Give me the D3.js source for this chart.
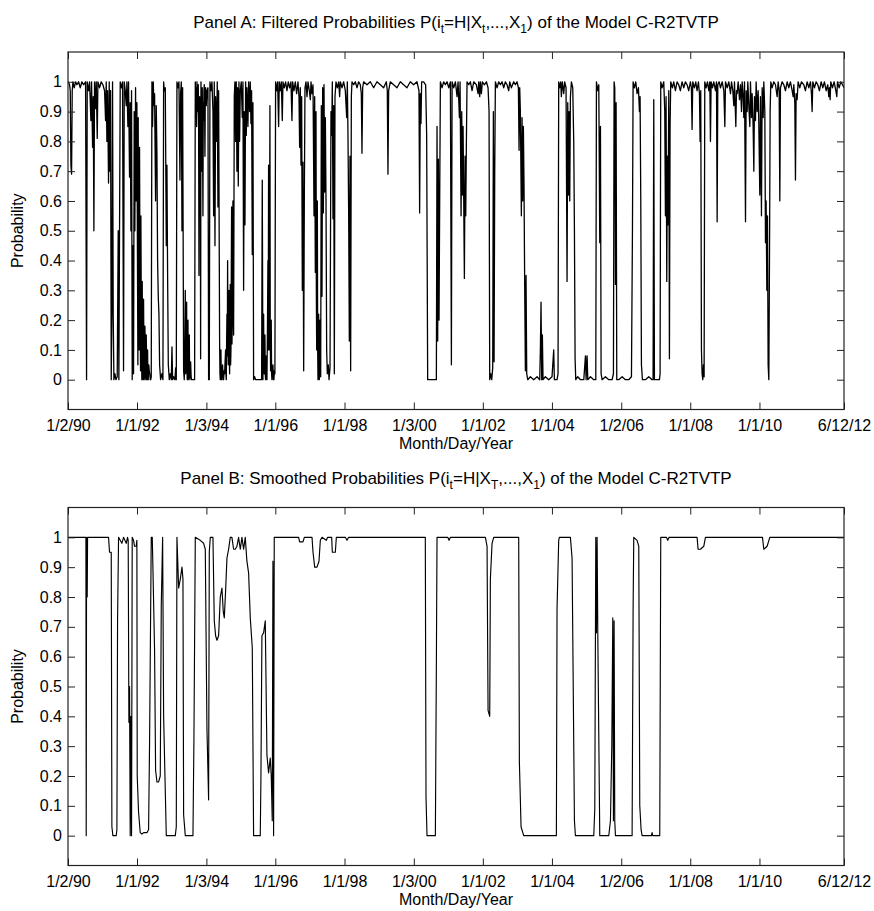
<!DOCTYPE html>
<html><head><meta charset="utf-8">
<script src="https://cdn.jsdelivr.net/npm/d3@7"></script>
<style>
body{margin:0;background:#fff}
svg{display:block}
text{font-family:"Liberation Sans",Arial,sans-serif;fill:#000}
</style>
</head><body>
<svg id="chart" width="874" height="911"></svg>
<script>
// ---------- data ----------
const tickDates = ["1990-01-02","1992-01-01","1994-01-03","1996-01-01","1998-01-01","2000-01-03","2002-01-01","2004-01-01","2006-01-02","2008-01-01","2010-01-01","2012-06-12"];
const tickLabels = ["1/2/90","1/1/92","1/3/94","1/1/96","1/1/98","1/3/00","1/1/02","1/1/04","1/2/06","1/1/08","1/1/10","6/12/12"];
const yTickValues = [0,0.1,0.2,0.3,0.4,0.5,0.6,0.7,0.8,0.9,1];
const yTickLabels = ["0","0.1","0.2","0.3","0.4","0.5","0.6","0.7","0.8","0.9","1"];
const xLabel = "Month/Day/Year";
const yLabel = "Probability";

// [decimal year, probability] - filtered probabilities (Panel A)
const filtered = [
[1990.003,1],[1990.010,1.0],[1990.048,0.99],[1990.068,0.97],[1990.087,0.72],[1990.106,0.69],[1990.125,0.97],[1990.145,1.0],[1990.183,0.98],[1990.222,1.0],[1990.260,0.99],[1990.309,1.0],[1990.357,0.98],[1990.405,1.0],[1990.453,0.99],[1990.511,1.0],[1990.540,0.0],[1990.559,1.0],[1990.598,0.97],[1990.627,1.0],[1990.665,0.87],[1990.685,1.0],[1990.714,0.78],[1990.733,0.95],[1990.752,0.5],[1990.771,1.0],[1990.800,0.91],[1990.820,1.0],[1990.849,0.81],[1990.868,1.0],[1990.916,0.98],[1990.964,1.0],
[1991.013,0.99],[1991.061,0.97],[1991.090,0.87],[1991.109,1.0],[1991.128,0.8],[1991.148,0.97],[1991.176,0.66],[1991.196,1.0],[1991.215,0.7],[1991.234,0.97],[1991.254,0.0],[1991.273,0.23],[1991.292,1.0],[1991.311,0.22],[1991.331,0.0],[1991.360,0.02],[1991.389,0.0],[1991.427,0.01],[1991.456,0.5],[1991.475,0.0],[1991.495,0.52],[1991.514,1.0],[1991.553,0.98],[1991.581,1.0],[1991.610,0.03],[1991.630,1.0],[1991.659,0.97],[1991.688,0.92],[1991.707,1.0],[1991.736,0.85],[1991.755,1.0],[1991.784,0.68],[1991.803,0.93],[1991.823,0.5],[1991.842,0.97],[1991.861,0.0],[1991.880,0.45],[1991.900,0.02],[1991.919,0.9],[1991.938,0.5],[1991.958,0.98],[1991.977,0.6],[1991.996,0.93],
[1992.015,0.35],[1992.025,0.05],[1992.035,0.88],[1992.044,0.2],[1992.054,0.52],[1992.063,0.1],[1992.073,0.78],[1992.083,0.4],[1992.093,0.2],[1992.102,0.03],[1992.112,0.55],[1992.121,0.3],[1992.131,0.08],[1992.140,0.0],[1992.150,0.33],[1992.160,0.15],[1992.170,0.02],[1992.180,0.0],[1992.189,0.27],[1992.198,0.1],[1992.208,0.0],[1992.218,0.02],[1992.228,0.18],[1992.237,0.12],[1992.247,0.01],[1992.256,0.0],[1992.266,0.15],[1992.275,0.08],[1992.285,0.0],[1992.295,0.02],[1992.305,0.1],[1992.315,0.0],[1992.324,0.0],[1992.340,0.05],[1992.353,0.03],[1992.368,0.02],[1992.382,0.0],[1992.396,0.0],[1992.411,0.01],
[1992.430,1.0],[1992.449,0.85],[1992.469,1.0],[1992.488,0.92],[1992.507,0.96],[1992.536,0.6],[1992.555,0.92],[1992.575,0.76],[1992.594,0.4],[1992.613,0.28],[1992.633,0.22],[1992.652,0.05],[1992.681,0.0],[1992.719,0.02],[1992.748,0.0],[1992.768,1.0],[1992.787,0.97],[1992.816,0.98],[1992.845,0.45],[1992.864,0.72],[1992.883,0.35],[1992.903,0.05],[1992.932,0.0],[1992.960,0.02],[1992.989,0.0],
[1993.009,0.11],[1993.028,0.0],[1993.057,0.01],[1993.095,0.0],[1993.115,0.04],[1993.134,0.0],[1993.153,1.0],[1993.182,0.98],[1993.211,1.0],[1993.240,0.67],[1993.259,0.96],[1993.279,1.0],[1993.298,0.5],[1993.317,0.98],
[1993.346,0.03],[1993.365,0.0],[1993.380,0.12],[1993.394,0.3],[1993.404,0.02],[1993.414,0.05],[1993.423,0.22],[1993.433,0.26],[1993.442,0.03],[1993.452,0.0],[1993.462,0.1],[1993.472,0.2],[1993.481,0.0],[1993.491,0.02],[1993.500,0.12],[1993.510,0.15],[1993.520,0.01],[1993.529,0.0],[1993.539,0.04],[1993.549,0.06],[1993.563,0.01],[1993.578,0.0],[1993.616,0.0],[1993.664,0.0],
[1993.684,1.0],[1993.698,0.9],[1993.713,0.98],[1993.722,0.85],[1993.732,1.0],[1993.742,0.93],[1993.751,0.9],[1993.760,0.97],[1993.770,0.99],[1993.780,0.85],[1993.790,0.35],[1993.800,0.9],[1993.809,0.95],[1993.818,0.88],[1993.828,0.82],[1993.838,0.07],[1993.848,1.0],[1993.857,0.85],[1993.867,0.7],[1993.876,0.92],[1993.886,0.98],[1993.895,0.8],[1993.905,0.55],[1993.915,0.93],[1993.925,0.87],[1993.934,0.97],[1993.944,0.99],[1993.954,0.9],[1993.963,0.75],[1993.973,0.95],[1993.983,0.98],[1994.002,0.92],
[1994.021,0.97],[1994.050,0.98],[1994.069,0.0],[1994.089,0.0],[1994.108,1.0],[1994.137,0.97],[1994.166,1.0],[1994.195,0.9],[1994.214,0.55],[1994.233,1.0],[1994.253,0.45],[1994.272,0.95],[1994.301,0.8],[1994.320,1.0],[1994.339,0.58],[1994.359,0.97],
[1994.388,0.12],[1994.398,0.02],[1994.407,0.0],[1994.417,0.06],[1994.426,0.1],[1994.436,0.01],[1994.445,0.0],[1994.460,0.03],[1994.474,0.05],[1994.489,0.0],[1994.503,0.0],[1994.518,0.03],[1994.532,0.02],[1994.546,0.06],[1994.561,0.1],[1994.571,0.02],[1994.581,0.0],[1994.590,0.12],[1994.600,0.22],[1994.610,0.08],[1994.619,0.4],[1994.629,0.15],[1994.638,0.05],[1994.648,0.25],[1994.658,0.3],[1994.667,0.08],[1994.677,0.02],[1994.687,0.2],[1994.696,0.32],[1994.706,0.05],[1994.716,0.1],[1994.725,0.35],[1994.735,0.58],[1994.745,0.12],[1994.754,0.2],[1994.764,0.45],[1994.773,0.6],[1994.783,0.25],[1994.793,0.15],
[1994.812,0.95],[1994.831,1.0],[1994.851,0.8],[1994.870,1.0],[1994.889,0.7],[1994.908,0.98],[1994.928,0.65],[1994.947,1.0],[1994.966,0.8],[1994.986,0.97],
[1995.014,1.0],[1995.043,0.88],[1995.063,1.0],[1995.082,0.3],[1995.101,0.9],[1995.121,0.52],[1995.140,1.0],[1995.159,0.82],[1995.178,0.98],[1995.207,0.85],[1995.227,1.0],[1995.256,0.9],[1995.275,1.0],[1995.294,0.86],[1995.313,0.97],[1995.333,0.42],[1995.352,0.93],[1995.371,0.0],[1995.400,0.01],[1995.429,0.0],[1995.468,0.0],[1995.516,0.0],[1995.564,0.0],[1995.603,0.0],[1995.622,0.67],
[1995.641,0.0],[1995.651,0.1],[1995.661,0.22],[1995.670,0.05],[1995.680,0.02],[1995.690,0.12],[1995.699,0.15],[1995.709,0.02],[1995.718,0.0],[1995.728,0.08],[1995.738,0.05],[1995.747,0.01],[1995.757,0.0],[1995.771,0.15],[1995.786,0.4],[1995.795,0.1],[1995.805,0.72],[1995.814,0.2],[1995.824,0.1],[1995.834,0.5],[1995.844,0.92],[1995.853,0.15],[1995.863,0.03],[1995.872,0.12],[1995.882,0.2],[1995.892,0.02],[1995.902,0.0],[1995.916,0.03],[1995.931,0.05],[1995.945,0.0],[1995.959,0.0],[1995.973,0.03],[1995.988,0.02],
[1996.008,1.0],[1996.037,0.97],[1996.066,1.0],[1996.095,0.85],[1996.114,1.0],[1996.143,0.97],[1996.172,1.0],[1996.201,0.87],[1996.220,1.0],[1996.258,0.98],[1996.297,1.0],[1996.336,0.97],[1996.374,1.0],[1996.413,0.98],[1996.451,1.0],[1996.480,0.87],[1996.500,1.0],[1996.538,0.97],[1996.577,1.0],[1996.615,0.96],[1996.654,1.0],[1996.683,0.95],[1996.702,0.78],[1996.721,0.98],[1996.741,0.72],[1996.760,0.95],[1996.779,0.3],[1996.798,0.73],[1996.818,0.03],[1996.837,0.6],[1996.856,0.98],[1996.885,1.0],[1996.914,0.95],[1996.943,1.0],[1996.982,0.97],
[1997.011,0.94],[1997.030,1.0],[1997.059,0.96],[1997.088,0.99],[1997.117,0.55],[1997.127,0.85],[1997.136,0.95],[1997.146,0.6],[1997.155,0.36],[1997.165,0.7],[1997.175,0.9],[1997.184,0.3],[1997.194,0.1],[1997.204,0.45],[1997.213,0.6],[1997.223,0.1],[1997.232,0.0],[1997.242,0.12],[1997.252,0.22],[1997.261,0.03],[1997.271,0.0],[1997.281,0.1],[1997.290,0.2],[1997.300,0.05],[1997.310,0.01],[1997.329,0.92],[1997.348,0.28],[1997.367,0.98],[1997.387,0.56],[1997.406,0.99],[1997.425,0.63],[1997.445,0.88],[1997.464,0.6],[1997.483,0.1],[1997.502,0.02],[1997.531,0.05],[1997.551,0.0],[1997.580,0.04],[1997.608,0.9],[1997.628,0.82],[1997.647,1.0],[1997.666,0.54],[1997.686,0.92],[1997.705,0.02],[1997.724,0.95],[1997.753,1.0],[1997.792,0.98],[1997.830,1.0],[1997.859,0.95],[1997.879,1.0],[1997.927,0.98],[1997.975,1.0],
[1998.023,0.97],[1998.062,0.88],[1998.081,1.0],[1998.100,0.82],[1998.120,0.55],[1998.139,0.13],[1998.158,0.75],[1998.177,0.03],[1998.197,0.95],[1998.216,1.0],[1998.264,0.99],[1998.312,1.0],[1998.361,0.98],[1998.409,1.0],[1998.457,0.99],[1998.486,0.96],[1998.505,0.76],[1998.525,0.98],[1998.553,1.0],[1998.650,0.99],[1998.746,1.0],[1998.843,0.98],[1998.939,1.0],
[1999.036,0.99],[1999.132,0.98],[1999.209,1.0],[1999.238,0.97],[1999.257,0.69],[1999.277,0.97],[1999.325,1.0],[1999.421,0.99],[1999.518,0.98],[1999.614,1.0],[1999.711,0.99],[1999.807,0.98],[1999.904,1.0],
[2000.000,0.99],[2000.096,1.0],[2000.154,0.97],[2000.173,0.56],[2000.193,0.96],[2000.212,0.86],[2000.231,1.0],[2000.289,1.0],[2000.347,0.99],[2000.376,0.82],[2000.405,0.0],[2000.482,0.0],[2000.579,0.0],[2000.656,0.0],[2000.675,0.85],[2000.694,0.13],[2000.714,0.74],[2000.733,0.2],[2000.752,0.6],[2000.772,1.0],[2000.820,0.98],[2000.868,1.0],[2000.916,0.99],[2000.964,1.0],
[2001.013,0.98],[2001.061,1.0],[2001.090,0.05],[2001.110,1.0],[2001.158,0.98],[2001.206,1.0],[2001.254,0.95],[2001.283,1.0],[2001.322,0.88],[2001.341,1.0],[2001.370,0.55],[2001.389,0.9],[2001.408,0.62],[2001.428,0.85],[2001.447,0.6],[2001.466,0.34],[2001.486,0.75],[2001.505,0.55],[2001.524,0.8],[2001.543,1.0],[2001.592,0.99],[2001.640,1.0],[2001.688,0.97],[2001.736,1.0],[2001.813,0.99],[2001.862,0.96],[2001.881,1.0],[2001.910,0.95],[2001.929,1.0],[2001.958,0.96],[2001.987,1.0],
[2002.045,0.99],[2002.103,1.0],[2002.151,0.98],[2002.180,0.9],[2002.199,0.0],[2002.228,0.02],[2002.257,0.0],[2002.286,0.04],[2002.305,0.9],[2002.325,0.06],[2002.344,0.7],[2002.363,1.0],[2002.411,0.98],[2002.460,1.0],[2002.508,0.99],[2002.556,1.0],[2002.604,0.98],[2002.652,1.0],[2002.701,0.99],[2002.749,0.97],[2002.778,1.0],[2002.826,0.98],[2002.894,1.0],[2002.942,0.99],[2002.990,1.0],
[2003.029,0.98],[2003.048,0.77],[2003.067,0.98],[2003.086,0.9],[2003.115,0.55],[2003.135,0.88],[2003.154,0.6],[2003.173,0.85],[2003.192,0.65],[2003.212,0.3],[2003.231,0.03],[2003.250,0.35],[2003.270,0.02],[2003.299,0.0],[2003.376,0.01],[2003.472,0.0],[2003.569,0.01],[2003.646,0.0],[2003.665,0.1],[2003.684,0.26],[2003.704,0.0],[2003.723,0.15],[2003.742,0.0],[2003.810,0.01],[2003.906,0.0],
[2004.002,0.01],[2004.051,0.1],[2004.070,0.0],[2004.147,0.0],[2004.176,0.02],[2004.195,1.0],[2004.224,0.98],[2004.253,1.0],[2004.272,0.95],[2004.301,1.0],[2004.340,0.96],[2004.369,1.0],[2004.407,0.98],[2004.436,0.33],[2004.456,0.93],[2004.475,0.62],[2004.494,0.9],[2004.514,0.6],[2004.533,0.95],[2004.562,1.0],[2004.600,0.98],[2004.629,0.8],[2004.649,0.5],[2004.668,0.07],[2004.687,0.0],[2004.745,0.01],[2004.822,0.0],[2004.919,0.0],[2004.967,0.08],[2004.986,0.0],
[2005.015,0.08],[2005.034,0.0],[2005.111,0.01],[2005.208,0.0],[2005.266,0.0],[2005.285,1.0],[2005.324,0.97],[2005.353,0.99],[2005.381,0.46],[2005.401,0.85],[2005.420,0.02],[2005.449,0.0],[2005.545,0.01],[2005.642,0.0],[2005.738,0.0],[2005.777,0.02],[2005.796,1.0],[2005.815,0.98],[2005.835,0.32],[2005.854,0.93],[2005.873,0.0],[2005.931,0.0],
[2006.028,0.01],[2006.124,0.0],[2006.220,0.0],[2006.298,0.01],[2006.327,0.5],[2006.346,1.0],[2006.384,0.98],[2006.423,1.0],[2006.461,0.96],[2006.500,0.98],[2006.529,0.9],[2006.548,0.95],[2006.568,0.6],[2006.587,0.05],[2006.616,0.0],[2006.703,0.0],[2006.799,0.01],[2006.895,0.0],[2006.924,0.0],[2006.944,0.94],[2006.963,0.0],
[2007.040,0.0],[2007.108,0.0],[2007.127,0.02],[2007.146,1.0],[2007.185,0.98],[2007.233,1.0],[2007.262,0.9],[2007.281,0.55],[2007.300,0.95],[2007.320,0.33],[2007.339,0.75],[2007.358,0.52],[2007.378,0.97],[2007.397,0.07],[2007.416,0.85],[2007.435,1.0],[2007.484,0.98],[2007.522,1.0],[2007.570,0.97],[2007.619,1.0],[2007.667,0.99],[2007.715,0.97],[2007.763,1.0],[2007.812,0.98],[2007.860,1.0],[2007.908,0.99],[2007.956,0.97],
[2008.004,1.0],[2008.033,0.98],[2008.053,0.84],[2008.072,1.0],[2008.120,0.98],[2008.159,1.0],[2008.197,0.97],[2008.236,1.0],[2008.265,0.96],[2008.284,0.8],[2008.303,0.97],[2008.323,0.1],[2008.342,0.02],[2008.361,0.0],[2008.380,0.05],[2008.400,0.01],[2008.419,1.0],[2008.458,0.98],[2008.496,1.0],[2008.535,0.97],[2008.564,1.0],[2008.583,0.8],[2008.602,1.0],[2008.641,0.98],[2008.679,1.0],[2008.728,0.97],[2008.757,1.0],[2008.776,0.53],[2008.795,0.99],[2008.834,1.0],[2008.872,0.98],[2008.921,1.0],[2008.969,0.97],[2008.998,0.85],
[2009.017,1.0],[2009.065,0.98],[2009.113,1.0],[2009.162,0.96],[2009.191,1.0],[2009.229,0.97],[2009.258,0.92],[2009.277,1.0],[2009.316,0.85],[2009.335,0.97],[2009.354,0.96],[2009.383,1.0],[2009.422,0.94],[2009.451,0.99],[2009.480,0.9],[2009.499,1.0],[2009.528,0.95],[2009.547,0.88],[2009.567,1.0],[2009.596,0.53],[2009.615,0.97],[2009.644,0.9],[2009.663,1.0],[2009.692,0.92],[2009.721,0.85],[2009.740,1.0],[2009.769,0.88],[2009.788,0.96],[2009.817,0.85],[2009.837,0.7],[2009.856,0.95],[2009.885,0.87],[2009.904,1.0],[2009.933,0.9],[2009.962,0.97],[2009.981,0.86],
[2010.010,0.62],[2010.029,0.95],[2010.058,0.55],[2010.078,0.98],[2010.107,0.88],[2010.126,1.0],[2010.155,0.9],[2010.174,0.46],[2010.193,0.6],[2010.213,0.3],[2010.232,0.55],[2010.251,0.05],[2010.271,0.0],[2010.290,0.4],[2010.309,0.9],[2010.328,1.0],[2010.367,0.98],[2010.415,1.0],[2010.463,0.99],[2010.512,0.95],[2010.541,1.0],[2010.570,0.97],[2010.589,0.6],[2010.608,0.98],[2010.656,1.0],[2010.705,0.99],[2010.753,0.97],[2010.801,1.0],[2010.849,0.98],[2010.897,1.0],[2010.946,0.97],[2010.975,0.95],[2010.994,0.99],
[2011.023,0.93],[2011.042,0.67],[2011.061,0.96],[2011.090,0.94],[2011.119,1.0],[2011.167,0.98],[2011.216,1.0],[2011.283,0.99],[2011.331,0.97],[2011.380,1.0],[2011.428,0.98],[2011.476,1.0],[2011.505,0.96],[2011.524,0.9],[2011.544,1.0],[2011.592,0.98],[2011.640,1.0],[2011.688,0.99],[2011.736,0.97],[2011.785,1.0],[2011.833,0.98],[2011.881,1.0],[2011.929,0.97],[2011.977,0.99],
[2012.006,0.95],[2012.026,0.98],[2012.045,0.94],[2012.064,1.0],[2012.112,0.98],[2012.161,1.0],[2012.209,0.97],[2012.238,0.95],[2012.257,1.0],[2012.305,0.98],[2012.354,1.0],[2012.402,0.99],[2012.445,0.98]
];

// [decimal year, probability] - smoothed probabilities (Panel B)
const smoothed = [
[1990.003,1],[1990.521,1.0],[1990.530,0.0],[1990.540,1.0],[1990.559,0.8],[1990.569,1.0],[1991.176,1.0],[1991.205,0.95],[1991.254,0.95],[1991.273,0.03],[1991.302,0.0],[1991.398,0.0],[1991.418,0.02],[1991.437,0.72],[1991.466,1.0],[1991.562,0.98],[1991.610,1.0],[1991.688,0.98],[1991.726,1.0],[1991.745,0.99],[1991.765,0.38],[1991.784,0.5],[1991.803,0.0],[1991.823,0.4],[1991.842,0.0],[1991.861,1.0],[1991.900,0.99],[1991.929,0.97],[1991.977,0.97],[1991.996,0.99],
[1992.006,0.2],[1992.044,0.08],[1992.093,0.01],[1992.141,0.005],[1992.189,0.01],[1992.285,0.01],[1992.334,0.02],[1992.363,0.32],[1992.411,1.0],[1992.440,1.0],[1992.459,0.9],[1992.507,0.62],[1992.536,0.22],[1992.575,0.18],[1992.623,0.18],[1992.671,0.2],[1992.700,0.77],[1992.739,1.0],[1992.768,0.4],[1992.816,0.15],[1992.845,0.0],
[1993.105,0.0],[1993.134,0.03],[1993.153,1.0],[1993.202,0.83],[1993.250,0.86],[1993.298,0.9],[1993.327,0.86],[1993.346,0.07],[1993.394,0.0],[1993.616,0.0],[1993.645,0.33],[1993.684,1.0],[1993.828,0.99],[1993.925,0.98],[1993.973,0.96],
[1994.021,0.36],[1994.069,0.12],[1994.089,0.95],[1994.118,1.0],[1994.195,1.0],[1994.233,0.72],[1994.272,0.67],[1994.311,0.655],[1994.359,0.67],[1994.407,0.8],[1994.455,0.83],[1994.494,0.75],[1994.523,0.73],[1994.561,0.82],[1994.600,0.93],[1994.648,0.96],[1994.696,1.0],[1994.744,1.0],[1994.793,0.96],[1994.841,0.96],[1994.889,0.97],[1994.937,1.0],[1994.986,0.96],
[1995.034,1.0],[1995.082,0.96],[1995.130,1.0],[1995.159,0.95],[1995.178,0.92],[1995.227,0.88],[1995.275,0.73],[1995.333,0.63],[1995.371,0.0],[1995.564,0.0],[1995.583,0.19],[1995.612,0.67],[1995.661,0.68],[1995.709,0.72],[1995.757,0.27],[1995.805,0.21],[1995.853,0.26],[1995.882,0.2],[1995.911,0.05],[1995.931,0.92],[1995.950,0.0],[1995.969,1.0],
[1996.673,1.0],[1996.702,0.985],[1996.798,0.985],[1996.837,1.0],[1997.059,1.0],[1997.088,0.95],[1997.136,0.9],[1997.203,0.9],[1997.261,0.92],[1997.300,0.99],[1997.348,1.0],[1997.473,0.99],[1997.512,1.0],[1997.628,1.0],[1997.647,0.95],[1997.734,0.95],[1997.763,1.0],[1998.023,1.0],[1998.071,0.99],[1998.120,1.0],
[2000.337,1.0],[2000.357,0.13],[2000.386,0.0],[2000.627,0.0],[2000.656,0.57],[2000.675,1.0],[2000.984,1.0],[2001.022,0.99],[2001.061,1.0],
[2002.074,1.0],[2002.122,0.97],[2002.151,0.42],[2002.199,0.4],[2002.218,0.86],[2002.267,0.98],[2002.315,1.0],
[2003.038,1.0],[2003.057,0.25],[2003.106,0.03],[2003.183,0.0],[2004.128,0.0],[2004.147,0.76],[2004.195,0.99],[2004.215,1.0],[2004.533,1.0],[2004.581,0.93],[2004.649,0.05],[2004.677,0.0],
[2005.208,0.0],[2005.237,0.09],[2005.266,1.0],[2005.285,0.68],[2005.304,1.0],[2005.324,0.68],[2005.381,0.0],[2005.642,0.0],[2005.690,0.05],[2005.729,0.3],[2005.758,0.73],[2005.777,0.05],[2005.796,0.72],[2005.815,0.05],[2005.835,0.0],
[2006.317,0.0],[2006.346,0.76],[2006.365,1.0],[2006.461,0.99],[2006.510,0.97],[2006.539,0.1],[2006.577,0.02],[2006.606,0.0],[2006.876,0.0],[2006.895,0.01],[2006.915,0.0],
[2007.117,0.0],[2007.146,1.0],[2007.310,1.0],[2007.349,0.99],[2007.387,1.0],[2008.197,1.0],[2008.226,0.96],[2008.294,0.96],[2008.390,0.97],[2008.438,1.0],
[2010.087,1.0],[2010.126,0.96],[2010.222,0.97],[2010.299,1.0],[2012.445,1.0]
];

const panels = [
  {name:"Panel A: Filtered Probabilities P(i", sub2:"t", data: filtered, lw: 1.3},
  {name:"Panel B: Smoothed Probabilities P(i", sub2:"T", data: smoothed, lw: 1.15}
];

// ---------- helpers ----------
function yearToDate(y){
  const yr = Math.floor(y);
  const a = Date.UTC(yr,0,1), b = Date.UTC(yr+1,0,1);
  return new Date(a + (y-yr)*(b-a));
}
const parse = d3.utcParse("%Y-%m-%d");

const svg = d3.select("#chart");
const L = 68, R = 844;
const boxes = [{top:52, bottom:409.5},{top:507.5, bottom:865.5}];

const x = d3.scaleUtc()
  .domain([parse("1990-01-02"), parse("2012-06-12")])
  .range([L, R]);

panels.forEach((p, i) => {
  const {top, bottom} = boxes[i];
  const y = d3.scaleLinear().domain([-0.1, 1.1]).range([bottom, top]);
  const g = svg.append("g");

  const clipId = "clip" + i;
  svg.append("clipPath").attr("id", clipId)
    .append("rect").attr("x", L).attr("y", top).attr("width", R-L).attr("height", bottom-top);

  const line = d3.line().x(d => x(yearToDate(d[0]))).y(d => y(d[1]));
  g.append("path")
    .datum(p.data)
    .attr("clip-path", `url(#${clipId})`)
    .attr("fill", "none")
    .attr("stroke", "#000")
    .attr("stroke-width", p.lw)
    .attr("stroke-linejoin", "round")
    .attr("d", line);

  const tv = tickDates.map(parse);

  const ax = g.append("g").attr("transform", `translate(0,${bottom})`)
    .call(d3.axisBottom(x).tickValues(tv).tickFormat((d,k)=>tickLabels[k]).tickSizeInner(-7).tickSizeOuter(0).tickPadding(10));
  const at = g.append("g").attr("transform", `translate(0,${top})`)
    .call(d3.axisTop(x).tickValues(tv).tickFormat("").tickSizeInner(-7).tickSizeOuter(0));
  const al = g.append("g").attr("transform", `translate(${L},0)`)
    .call(d3.axisLeft(y).tickValues(yTickValues).tickFormat((d,k)=>yTickLabels[k]).tickSizeInner(-7).tickSizeOuter(0).tickPadding(6));
  const ar = g.append("g").attr("transform", `translate(${R},0)`)
    .call(d3.axisRight(y).tickValues(yTickValues).tickFormat("").tickSizeInner(-7).tickSizeOuter(0));

  [ax, at, al, ar].forEach(a => {
    a.select(".domain").remove();
    a.selectAll("line").attr("stroke", "#222").attr("stroke-width", 1);
    a.selectAll("text").attr("font-family", '"Liberation Sans",Arial,sans-serif').attr("font-size", 16).attr("fill", "#000");
  });

  g.append("rect").attr("x", L).attr("y", top).attr("width", R-L).attr("height", bottom-top)
    .attr("fill", "none").attr("stroke", "#222").attr("stroke-width", 1.2);

  const t = g.append("text").attr("x", (L+R)/2).attr("y", top - 24).attr("text-anchor", "middle").attr("font-size", 17);
  t.append("tspan").text(p.name);
  t.append("tspan").attr("font-size", 12).attr("dy", 5).text("t");
  t.append("tspan").attr("dy", -5).text("=H|X");
  t.append("tspan").attr("font-size", 12).attr("dy", 5).text(p.sub2);
  t.append("tspan").attr("dy", -5).text(",...,X");
  t.append("tspan").attr("font-size", 12).attr("dy", 5).text("1");
  t.append("tspan").attr("dy", -5).text(") of the Model C-R2TVTP");

  g.append("text").attr("x", (L+R)/2).attr("y", bottom + 39).attr("text-anchor", "middle").attr("font-size", 16).text(xLabel);
  g.append("text").attr("transform", `translate(23,${(top+bottom)/2}) rotate(-90)`).attr("text-anchor", "middle").attr("font-size", 16).text(yLabel);
});
</script>
</body></html>
